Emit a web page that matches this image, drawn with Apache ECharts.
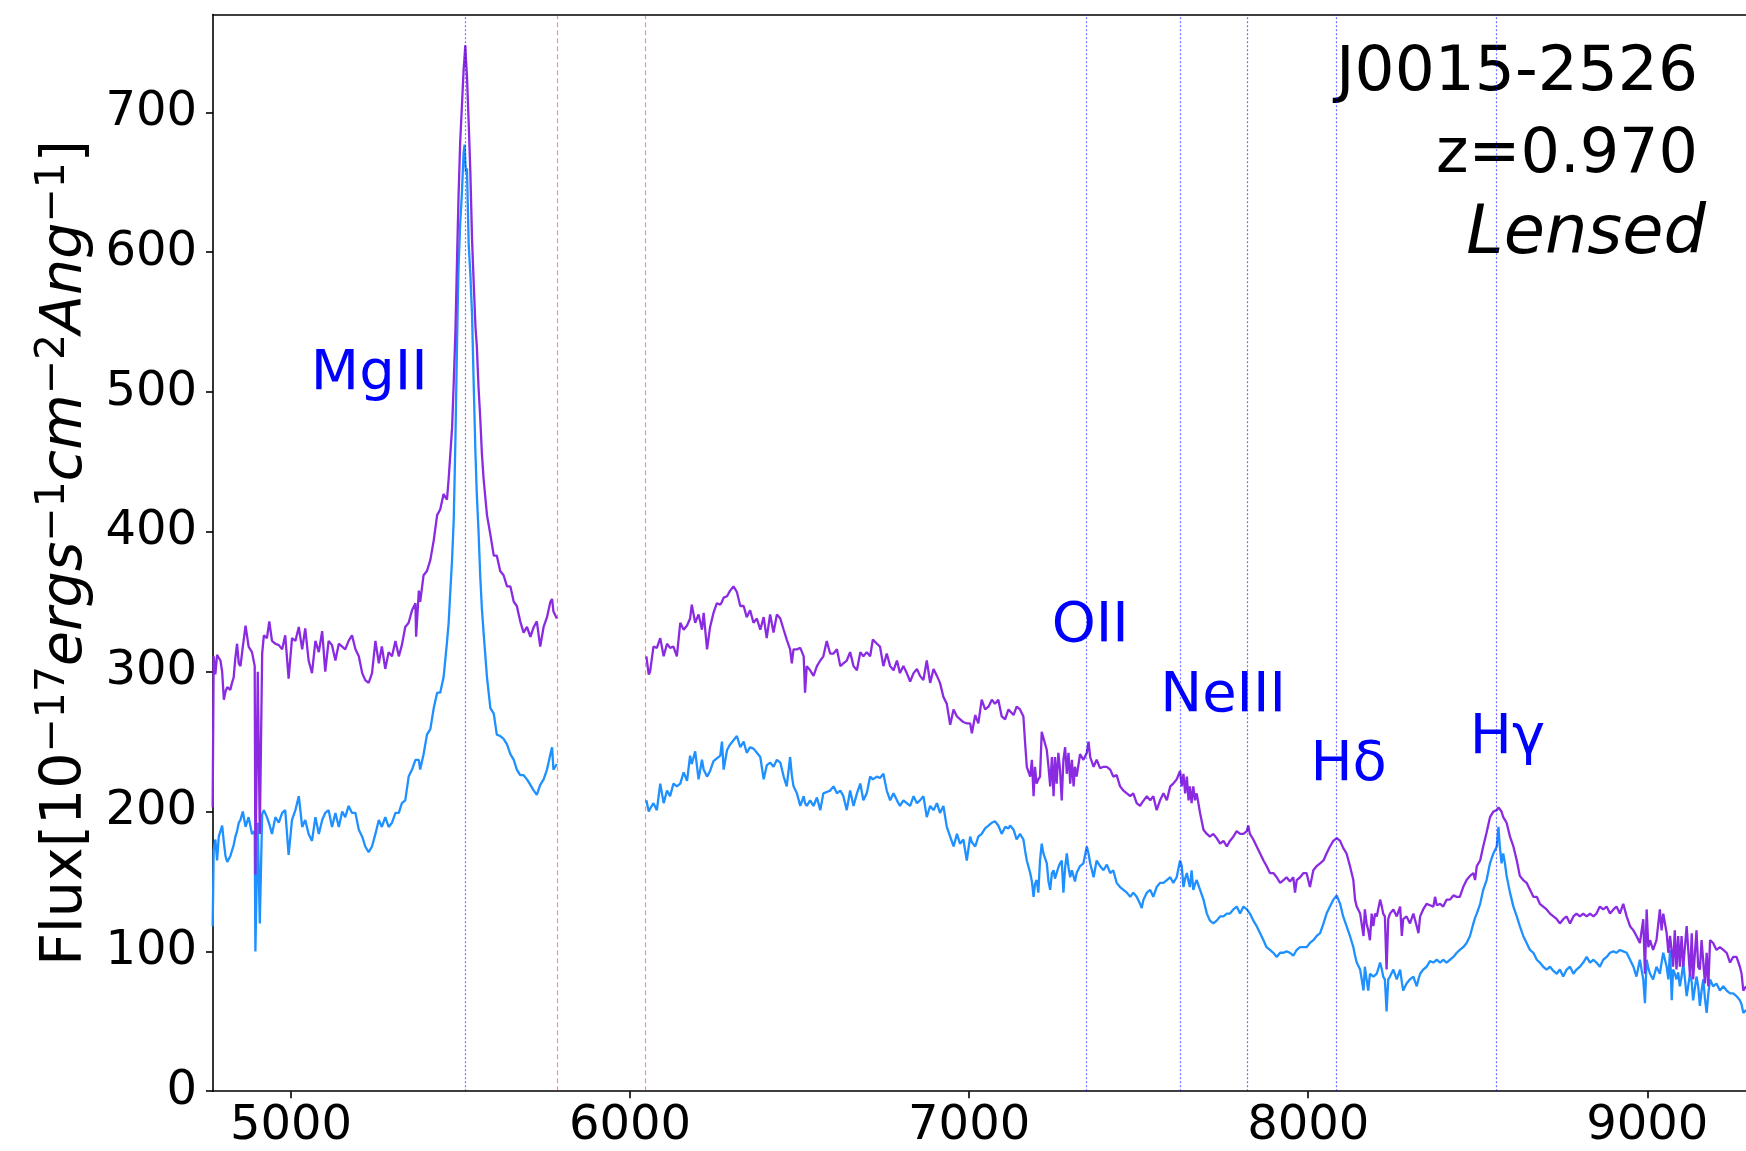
<!DOCTYPE html>
<html><head><meta charset="utf-8">
<script src="https://cdn.jsdelivr.net/npm/echarts@6/dist/echarts.min.js"></script>
<style>html,body{margin:0;padding:0;background:#fff}#c{width:1746px;height:1151px}</style>
</head><body><div id="c"></div>
<script>
// Wavelength grid (Angstrom); a null flux at 5900 marks the detector gap
const wavelength = [
4769,4772,4777,4782,4787,4792,4797,4802,4807,4812,4816,4821,4826,4831,4836,4841,4846,4851,4858,4866,4875,4885,4893,4895,4902,4908,4915,4920,4929,4936,4944,4954,4964,4974,4983,4993,5003,5013,5023,5033,5042,5052,5062,5072,5082,5092,5101,5111,5121,5131,5141,5151,5160,5170,5180,5190,5200,5210,5219,5229,5239,5249,5259,5268,5278,5288,5298,5308,5318,5327,5337,5347,5357,5367,5369,5377,
5381,5391,5401,5411,5421,5431,5440,5450,5460,5465,5470,5475,5480,5485,5490,5494,5499,5504,5509,5512,5514,5516,5519,5524,5529,5534,5539,5544,5548,5553,5558,5563,5568,5578,5588,5598,5607,5617,5627,5637,5647,5657,5666,5676,5686,5696,5706,5716,5725,5735,5745,5755,5765,5770,5774,5784,
5900,
6048,6055,6059,6069,6079,6089,6099,6109,6118,6128,6138,6148,6158,6168,6177,6182,6192,6202,6212,6217,6227,6236,6246,6256,6266,6271,6276,6286,6295,6305,6315,6325,6335,6344,6354,6364,6374,6384,6394,6403,6413,6423,6433,6443,6453,6462,6472,6477,6482,6492,6502,6512,6516,6521,6531,6541,6551,6561,
6570,6580,6590,6600,6610,6620,6629,6639,6649,6659,6669,6679,6688,6698,6708,6716,6728,6737,6747,6757,6767,6777,6787,6796,6806,6816,6826,6836,6846,6855,6865,6875,6885,6895,6905,6914,6924,6934,6944,6954,6964,6973,6983,6993,7003,7008,7018,7027,7037,7047,7057,7067,7076,7086,7096,7106,7116,
7121,7131,7140,7150,7160,7165,7170,7180,7185,7190,7194,7199,7204,7209,7214,7219,7229,7234,7239,7244,7249,7253,7258,7263,7268,7273,7278,7283,7288,7293,7298,7303,7308,7312,7317,7327,7337,7347,7352,7357,7367,7376,7386,7396,7406,7416,7425,7435,7445,7455,7465,7475,7484,7494,7504,7509,7514,7524,7534,7543,7553,7563,7573,7583,7593,7602,7612,7622,7627,7632,7637,7642,7647,7651,7656,7661,7666,7671,7681,7691,7701,7710,7720,7730,7740,7750,7760,7769,7779,7789,7799,7809,7819,7823,7828,7838,7848,7858,7868,7877,7887,7897,7907,7917,7927,7936,7946,7956,7961,7966,7976,7986,7995,8005,8015,8025,8035,8045,8054,8064,8074,8084,8094,8103,8113,8123,
8133,8138,8143,8153,8163,8167,8172,8177,8182,8187,8192,8197,8202,8212,8217,8221,8226,8231,8236,8241,8251,8261,8271,8276,8280,8290,8300,8310,8320,8325,8330,8339,8349,8359,8369,8374,8379,8389,8398,8408,8418,8428,8438,8447,8457,8467,8477,8487,8492,8497,8507,8516,8526,8536,8546,8556,8561,8565,8570,8575,8580,8585,8595,8605,8615,8624,8634,8644,8654,8664,8674,8683,8693,8703,8713,8723,8733,8742,8752,8762,8772,8782,8791,8801,8811,8821,8831,8841,8850,8860,8870,8880,8890,8900,8909,8919,8929,8939,8949,8959,8968,8978,8988,8993,8998,9003,9008,9017,9027,9037,9042,9047,9057,9062,9067,9072,9076,9081,9086,9091,9096,9101,9106,9116,9126,9131,9135,9145,9150,9155,9160,9165,9170,9175,9180,9185,9194,9204,9214,9224,9234,9244,9253,9263,9273,9278,9283,9291
];

// Purple spectrum (flux, 1e-17 erg/s/cm2/A)
const fluxPurple = [
203,311,298,312,310,308,300,280,286,289,290,287,292,296,310,320,306,304,318,333,318,314,304,155,300,184,313,326,324,336,322,320,319,316,326,295,324,322,332,316,331,308,299,322,314,329,300,322,319,308,320,318,316,322,326,316,311,299,294,292,299,322,306,318,302,314,311,322,311,319,332,335,344,349,325,358,
350,369,372,380,394,412,416,427,423,438,456,474,507,544,598,639,679,704,730,740,748,738,726,693,657,609,577,547,533,504,482,456,438,412,398,383,383,372,369,361,361,350,347,336,328,332,325,332,336,318,332,339,350,352,343,338,
null,
311,298,300,318,317,324,311,320,317,318,311,335,330,333,338,348,335,341,330,342,316,332,342,349,348,350,353,354,358,361,357,347,347,339,344,335,338,330,339,324,341,328,341,338,330,323,316,306,316,316,317,311,285,304,301,297,304,308,
311,322,313,313,316,304,306,308,314,304,301,314,311,314,311,323,320,318,304,313,304,301,308,299,304,299,293,299,302,297,294,308,292,302,297,292,282,277,262,273,268,266,264,263,263,256,269,263,280,273,275,280,277,280,268,266,273,
274,269,275,273,268,249,232,225,237,211,232,220,223,225,257,256,244,232,218,239,211,239,220,242,230,208,237,246,227,242,220,237,218,232,225,241,237,242,250,239,232,237,231,232,232,230,225,226,218,215,213,211,213,206,204,206,206,211,208,211,201,208,213,208,218,220,223,229,218,227,213,225,208,218,206,218,208,213,199,187,184,182,184,181,177,179,175,179,182,186,184,184,186,190,184,180,175,170,165,161,156,156,153,149,151,153,150,153,142,151,153,156,156,146,158,161,163,165,170,175,179,181,179,174,170,161,
151,137,132,127,111,130,120,115,108,127,118,127,125,137,132,127,125,87,123,127,130,125,132,111,123,125,120,127,118,113,125,130,134,133,132,139,133,134,132,137,137,140,139,139,146,151,154,156,151,161,165,175,185,196,200,201,203,204,200,196,194,192,182,175,165,154,151,149,144,139,139,134,132,130,127,125,123,120,123,125,120,125,127,125,127,125,127,125,127,132,130,132,127,130,132,127,134,125,118,115,111,106,123,84,130,103,108,101,108,130,115,127,113,99,111,100,89,115,87,111,89,111,89,118,82,113,80,115,89,87,108,108,77,99,75,108,106,101,103,101,99,92,96,96,89,84,72,75
];

// Blue spectrum
const fluxBlue = [
118,172,180,165,182,186,190,178,168,164,163,168,172,176,182,186,192,194,200,189,196,184,186,100,192,120,198,201,196,191,184,196,192,199,201,169,194,201,211,189,194,184,179,196,184,194,199,201,189,199,189,200,196,204,199,199,187,182,175,171,175,184,194,189,196,189,192,199,199,206,208,225,230,237,236,237,
230,241,255,259,274,285,285,296,321,335,358,380,409,467,540,588,620,642,671,677,665,657,660,606,584,555,504,456,427,401,369,345,328,296,274,270,255,254,252,248,241,237,230,226,226,223,219,215,212,219,223,230,241,246,230,234,
null,
208,200,202,206,201,220,206,215,211,220,218,220,228,222,240,234,243,223,237,230,225,229,236,238,240,250,230,244,248,251,254,246,250,242,246,245,242,239,223,233,235,232,237,235,225,218,239,226,218,213,204,211,206,204,208,204,210,201,
213,214,215,218,213,215,211,201,215,204,213,220,208,213,225,223,225,224,227,215,208,213,208,204,208,206,204,211,206,208,211,196,204,201,206,199,204,189,182,175,184,177,180,165,182,178,175,182,184,188,190,192,193,190,184,189,188,
190,187,180,184,180,172,165,156,150,139,148,151,142,165,177,170,163,150,144,156,158,152,153,160,163,165,142,160,170,160,153,158,158,150,156,161,163,175,170,163,153,165,161,158,162,156,158,149,146,144,142,139,142,139,134,131,137,142,144,139,146,149,149,151,153,149,153,165,161,146,152,156,150,146,158,144,148,151,144,137,127,122,120,122,125,125,127,127,130,132,127,132,130,131,127,122,118,113,108,103,101,99,96,99,99,100,99,97,99,101,103,103,103,106,108,111,113,120,127,132,137,140,134,125,118,111,
103,97,92,87,72,89,80,72,84,83,82,83,84,92,87,82,80,57,80,82,87,80,87,78,72,77,80,82,75,80,84,87,89,93,92,93,94,92,94,92,94,96,99,101,103,106,111,120,124,127,134,144,151,163,170,175,189,175,163,170,163,154,142,132,125,118,111,106,101,99,94,92,89,87,89,86,84,87,82,87,89,84,87,89,92,96,92,94,92,89,94,96,99,100,99,101,100,99,94,89,82,94,80,63,94,88,84,80,89,84,92,99,89,80,101,65,87,84,80,85,75,82,92,68,84,78,65,82,75,61,72,80,66,56,70,80,75,77,72,75,72,70,70,68,65,62,56,58
];

const xTicks = [5000, 6000, 7000, 8000, 9000];
const yTicks = [0, 100, 200, 300, 400, 500, 600, 700];
const emissionLineWaves = [5513, 7346, 7623, 7821, 8082, 8553];
const gapEdgeWaves = [5786, 6046];
const lineLabelNames = ['MgII', 'OII', 'NeIII', 'Hδ', 'Hγ'];
const lineLabelWave = [5060, 7245, 7565, 8008, 8478];
const lineLabelFlux = [498, 318, 268, 219, 238];
const infoText = ['J0015-2526', 'z=0.970', 'Lensed'];

const FONT = 'DejaVu Sans';
const chart = echarts.init(document.getElementById('c'), null, {renderer: 'canvas', width: 1746, height: 1151});
const pairs = f => wavelength.map((w, i) => [w, f[i]]);

const markLines = {
  silent: true,
  symbol: ['none', 'none'],
  label: {show: false},
  animation: false,
  data: emissionLineWaves.map(w => ({xAxis: w, lineStyle: {color: 'rgba(0,0,255,0.55)', width: 1.2, type: [2, 2]}}))
    .concat(gapEdgeWaves.map(w => ({xAxis: w, lineStyle: {color: 'rgba(255,0,0,0.45)', width: 1.2, type: [5, 3]}})))
};

const textStyleBase = {fontFamily: FONT, fill: '#000', align: 'right', verticalAlign: 'middle', textAlign: 'right', textVerticalAlign: 'middle'};

const option = {
  animation: false,
  backgroundColor: '#ffffff',
  grid: {left: 213, right: 0, top: 14.5, bottom: 59.8, containLabel: false},
  xAxis: [{
    type: 'value', min: 4770, max: 9291, position: 'bottom',
    axisLine: {show: true, onZero: false, lineStyle: {color: '#000', width: 1.6}},
    axisTick: {show: true, length: 7, lineStyle: {color: '#000', width: 1.6}, customValues: xTicks},
    axisLabel: {show: true, customValues: xTicks, fontSize: 48, color: '#000', fontFamily: FONT, margin: 11, formatter: v => String(v)},
    splitLine: {show: false}
  }, {
    type: 'value', min: 4770, max: 9291, position: 'top',
    axisLine: {show: true, onZero: false, lineStyle: {color: '#000', width: 1.6}},
    axisTick: {show: false}, axisLabel: {show: false}, splitLine: {show: false}
  }],
  yAxis: {
    type: 'value', min: 0, max: 770,
    axisLine: {show: true, onZero: false, lineStyle: {color: '#000', width: 1.6}},
    axisTick: {show: true, length: 7, lineStyle: {color: '#000', width: 1.6}, customValues: yTicks},
    axisLabel: {show: true, customValues: yTicks, fontSize: 48, color: '#000', fontFamily: FONT, margin: 16, formatter: v => String(v)},
    splitLine: {show: false},
    name: '{n|Flux[10}{s|\u221217}{i|ergs}{s|\u22121}{i|cm}{s|\u22122}{i|Ang}{s|\u22121}{n|]}',
    nameLocation: 'middle', nameRotate: 90, nameGap: 118,
    nameTextStyle: {
      fontFamily: FONT, fontSize: 57, color: '#000',
      rich: {
        n: {fontFamily: FONT, fontSize: 57, lineHeight: 62, verticalAlign: 'bottom', color: '#000'},
        i: {fontFamily: FONT, fontSize: 57, fontStyle: 'italic', lineHeight: 62, verticalAlign: 'bottom', color: '#000'},
        s: {fontFamily: FONT, fontSize: 41, lineHeight: 41, verticalAlign: 'top', color: '#000'}
      }
    }
  },
  series: [{
    type: 'line', name: 'blue', data: pairs(fluxBlue), showSymbol: false, symbol: 'none',
    connectNulls: false, lineStyle: {color: '#1e90ff', width: 2.3}, itemStyle: {color: '#1e90ff'}, z: 2,
    markLine: markLines
  }, {
    type: 'line', name: 'purple', data: pairs(fluxPurple), showSymbol: false, symbol: 'none',
    connectNulls: false, lineStyle: {color: '#8a2be2', width: 2.3}, itemStyle: {color: '#8a2be2'}, z: 3
  }, {
    type: 'scatter', silent: true, z: 5, symbolSize: 1, itemStyle: {color: 'rgba(0,0,0,0)', opacity: 1},
    data: lineLabelWave.map((w, i) => [w, lineLabelFlux[i], lineLabelNames[i]]),
    label: {show: true, formatter: p => p.data[2], position: [0, 0], align: 'left', verticalAlign: 'middle',
      offset: [0, -19.4], fontSize: 56, fontFamily: FONT, color: '#0000ff', opacity: 1}
  }],
  graphic: [
    {type: 'text', x: 1698, y: 73.2, silent: true, style: Object.assign({text: infoText[0], fontSize: 63}, textStyleBase)},
    {type: 'text', x: 1698, y: 156.2, silent: true, style: Object.assign({text: infoText[1], fontSize: 62}, textStyleBase)},
    {type: 'text', x: 1706, y: 235.8, silent: true, style: Object.assign({text: infoText[2], fontSize: 67, fontStyle: 'italic'}, textStyleBase)}
  ]
};
chart.setOption(option);
</script>
</body></html>
